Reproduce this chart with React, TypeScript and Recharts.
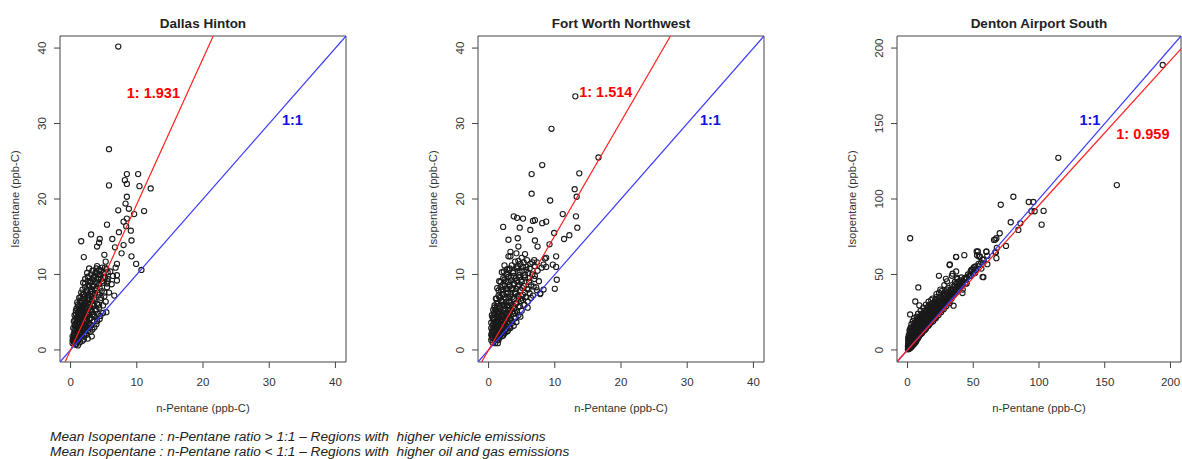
import {
  ScatterChart,
  Scatter,
  XAxis,
  YAxis,
  ReferenceArea,
  ReferenceDot,
} from "recharts";

type Pt = [number, number];

const SITES = ["Dallas Hinton", "Fort Worth Northwest", "Denton Airport South"];
const RATIOS = [1.931, 1.514, 0.959];
const SMALL_TICKS = [0, 10, 20, 30, 40];
const LARGE_TICKS = [0, 50, 100, 150, 200];
const X_TITLE = "n-Pentane (ppb-C)";
const Y_TITLE = "Isopentane (ppb-C)";
const NOTES = [
  "Mean Isopentane : n-Pentane ratio > 1:1 \u2013 Regions with  higher vehicle emissions",
  "Mean Isopentane : n-Pentane ratio < 1:1 \u2013 Regions with  higher oil and gas emissions",
];

// n-Pentane, Isopentane pairs (ppb-C)
const DALLAS_POINTS: Pt[] = [
  [7.2, 40.2], [5.8, 26.6], [5.8, 21.8], [8.5, 23.3], [10.2, 23.3], [8.2, 22.5], [8.5, 22.0],
  [10.4, 21.7], [12.1, 21.4], [8.5, 20.3], [8.3, 19.4], [7.2, 18.5], [8.8, 18.7], [11.1, 18.4],
  [9.6, 18.0], [8.5, 17.4], [8.0, 17.0], [8.4, 16.4], [5.5, 16.6], [9.1, 15.8], [7.3, 15.6],
  [3.1, 15.3], [1.6, 14.4], [4.4, 14.7], [9.2, 14.5], [6.3, 14.7], [8.0, 13.9], [4.3, 14.2],
  [4.0, 13.7], [6.7, 13.6], [2.0, 12.3], [5.1, 12.6], [9.2, 12.4], [7.7, 12.8], [9.9, 11.4],
  [10.7, 10.6], [7.0, 11.4], [5.3, 11.7], [4.0, 11.1], [7.0, 9.9], [5.6, 9.4],
  [0.3, 0.9], [0.4, 1.2], [0.5, 1.0], [0.5, 1.6], [0.6, 2.1], [0.6, 1.3], [0.7, 0.8], [0.7, 2.6],
  [0.8, 1.5], [0.8, 3.1], [0.9, 1.9], [0.9, 2.4], [1.0, 1.1], [1.0, 3.5], [1.0, 2.8], [1.1, 4.2],
  [1.1, 1.7], [1.2, 2.2], [1.2, 3.0], [1.3, 4.8], [1.3, 1.4], [1.3, 3.7], [1.4, 2.6], [1.4, 5.3],
  [1.5, 2.0], [1.5, 4.1], [1.5, 6.3], [1.6, 3.2], [1.6, 1.6], [1.7, 4.6], [1.7, 2.4], [1.7, 5.7],
  [1.8, 3.6], [1.8, 6.8], [1.9, 2.9], [1.9, 4.9], [2.0, 1.9], [2.0, 3.9], [2.0, 5.9], [2.0, 7.4],
  [2.1, 2.6], [2.1, 4.4], [2.2, 6.3], [2.2, 3.3], [2.3, 5.1], [2.3, 2.2], [2.4, 7.9], [2.4, 4.0],
  [2.5, 5.6], [2.5, 3.0], [2.6, 6.7], [2.6, 2.5], [2.7, 4.6], [2.7, 8.6], [2.8, 3.6], [2.8, 5.9],
  [2.9, 7.2], [2.9, 2.9], [3.0, 4.2], [3.0, 9.1], [3.1, 5.3], [3.1, 3.3], [3.2, 6.5], [3.2, 7.8],
  [3.3, 4.7], [3.3, 2.7], [3.4, 8.4], [3.4, 5.8], [3.5, 3.8], [3.5, 9.6], [3.6, 6.9], [3.6, 4.4],
  [3.7, 7.5], [3.8, 5.2], [3.8, 10.3], [3.9, 3.4], [3.9, 8.8], [4.0, 6.1], [4.1, 4.8], [4.1, 9.9],
  [4.2, 7.3], [4.3, 5.6], [4.3, 10.6], [4.4, 8.2], [4.5, 6.6], [4.5, 4.5], [4.6, 9.4], [4.7, 7.8],
  [4.8, 10.9], [4.9, 5.9], [5.0, 8.9], [5.0, 10.2], [5.1, 7.1], [5.2, 9.6], [5.3, 6.4], [5.4, 10.7],
  [5.5, 8.3], [5.6, 9.1], [5.8, 7.6], [6.0, 10.4], [6.2, 8.7], [6.4, 9.8], [6.6, 7.2], [6.8, 10.9],
  [7.0, 9.2], [5.4, 5.0], [4.9, 4.9], [3.2, 1.8], [2.6, 1.5], [1.8, 1.2], [1.1, 0.6], [0.9, 4.2],
  [0.7, 3.4], [0.6, 4.6], [1.2, 5.8], [1.6, 7.6], [1.9, 8.9], [2.2, 9.4], [1.3, 6.9], [2.5, 10.2],
  [2.8, 10.8], [0.4, 2.9], [0.5, 3.8], [1.0, 6.3], [0.8, 5.2],
  [0.4, 1.6], [0.6, 1.9], [0.8, 1.2], [1.0, 1.5], [1.2, 1.8], [0.5, 2.2], [0.7, 2.0], [1.1, 2.5],
  [1.4, 2.1], [1.6, 2.3], [0.6, 2.8], [0.9, 2.6], [1.2, 2.7], [1.5, 3.1], [1.8, 2.8], [2.1, 3.1],
  [0.6, 3.3], [0.9, 3.6], [1.2, 3.3], [1.4, 3.5], [1.7, 3.9], [2.0, 3.4], [2.3, 3.7], [2.6, 3.3],
  [0.7, 4.0], [1.0, 4.4], [1.3, 4.1], [1.6, 4.3], [1.9, 4.2], [2.2, 4.6], [2.5, 4.3], [2.9, 4.1],
  [0.8, 4.7], [1.1, 5.0], [1.4, 4.7], [1.7, 5.2], [2.0, 4.8], [2.3, 5.4], [2.6, 5.0], [2.9, 5.3],
  [3.2, 5.0], [0.9, 5.5], [1.2, 5.4], [1.5, 5.9], [1.8, 5.5], [2.1, 6.0], [2.4, 5.8], [2.7, 6.2],
  [3.0, 5.7], [3.4, 6.1], [1.1, 6.0], [1.4, 6.5], [1.7, 6.2], [2.0, 6.7], [2.3, 6.4], [2.6, 6.9],
  [2.9, 6.6], [3.2, 7.0], [3.6, 6.6], [1.5, 7.0], [1.8, 7.3], [2.1, 7.1], [2.4, 7.5], [2.7, 7.3],
  [3.0, 7.7], [3.3, 7.4], [3.7, 7.9], [4.1, 7.6], [1.8, 8.0], [2.2, 8.3], [2.5, 7.9], [2.8, 8.4],
  [3.1, 8.1], [3.5, 8.6], [3.9, 8.2], [4.3, 8.7], [2.2, 8.8], [2.6, 9.1], [3.0, 8.9], [3.4, 9.3],
  [3.8, 9.0], [4.2, 9.4], [4.7, 9.1], [2.6, 9.7], [3.1, 10.0], [3.6, 9.8], [4.0, 10.2], [4.5, 10.0],
  [5.0, 9.6], [3.3, 10.5], [3.9, 10.8], [4.6, 10.5], [5.2, 10.9], [5.6, 10.3], [3.0, 2.4], [2.4, 2.0],
  [3.6, 3.0], [4.0, 3.8], [4.4, 4.1], [3.5, 4.6], [3.9, 5.4], [4.3, 6.0], [4.6, 6.9], [5.1, 7.6],
  [5.5, 8.8], [2.0, 1.4], [1.4, 1.0], [0.8, 0.7], [0.3, 1.3], [0.3, 1.8],
];

const FORT_WORTH_POINTS: Pt[] = [
  [13.1, 33.6], [9.5, 29.3], [16.6, 25.5], [8.1, 24.5], [6.5, 23.3], [13.7, 23.4], [6.5, 20.7],
  [13.0, 21.3], [13.3, 20.3], [9.3, 19.8], [11.2, 18.0], [13.2, 17.7], [2.2, 16.3], [3.8, 17.7],
  [4.3, 17.5], [5.2, 17.4], [4.7, 16.2], [6.3, 15.9], [6.7, 17.1], [7.0, 17.2], [8.1, 16.8],
  [8.7, 17.0], [9.9, 15.5], [11.4, 14.7], [12.2, 15.2], [13.4, 16.2], [3.0, 14.6], [4.4, 14.8],
  [4.5, 13.7], [7.0, 14.5], [7.4, 13.7], [9.2, 14.0], [10.2, 12.4], [8.7, 12.2], [9.7, 11.3],
  [10.2, 11.0], [10.3, 9.3], [10.0, 8.1], [8.3, 8.0], [7.8, 7.5], [3.3, 12.4], [4.2, 12.8],
  [5.5, 12.7], [2.8, 10.7], [4.4, 11.1],
  [0.4, 1.3], [0.5, 2.0], [0.6, 1.0], [0.6, 2.7], [0.7, 3.4], [0.7, 1.6], [0.8, 4.2], [0.8, 2.3],
  [0.9, 1.2], [0.9, 3.0], [1.0, 4.8], [1.0, 1.9], [1.1, 3.7], [1.1, 2.6], [1.2, 5.5], [1.2, 1.5],
  [1.3, 4.3], [1.3, 3.1], [1.4, 2.2], [1.4, 6.1], [1.5, 3.6], [1.5, 4.9], [1.6, 2.7], [1.6, 7.0],
  [1.7, 5.6], [1.7, 1.9], [1.8, 4.1], [1.8, 3.2], [1.9, 6.5], [1.9, 7.9], [2.0, 2.4], [2.0, 5.0],
  [2.1, 3.8], [2.1, 8.6], [2.2, 6.0], [2.2, 2.9], [2.3, 7.3], [2.3, 4.5], [2.4, 9.3], [2.4, 3.4],
  [2.5, 5.5], [2.5, 2.6], [2.6, 6.8], [2.6, 8.1], [2.7, 4.1], [2.7, 10.0], [2.8, 3.0], [2.8, 5.9],
  [2.9, 7.6], [2.9, 9.0], [3.0, 4.7], [3.0, 3.4], [3.1, 6.4], [3.1, 10.6], [3.2, 8.4], [3.2, 2.9],
  [3.3, 5.3], [3.3, 7.1], [3.4, 9.6], [3.4, 4.0], [3.5, 6.0], [3.5, 11.2], [3.6, 8.0], [3.6, 3.6],
  [3.7, 4.8], [3.7, 10.2], [3.8, 6.8], [3.8, 8.8], [3.9, 5.5], [4.0, 4.2], [4.0, 11.7], [4.1, 7.4],
  [4.1, 9.5], [4.2, 6.2], [4.3, 5.0], [4.3, 10.8], [4.4, 8.4], [4.5, 7.0], [4.5, 4.6], [4.6, 9.9],
  [4.7, 5.8], [4.8, 11.4], [4.8, 7.9], [4.9, 6.5], [5.0, 9.0], [5.0, 5.2], [5.1, 10.5], [5.2, 7.3],
  [5.3, 11.6], [5.3, 8.5], [5.4, 6.0], [5.5, 9.6], [5.6, 7.0], [5.7, 11.0], [5.8, 8.1], [5.9, 6.4],
  [6.0, 10.2], [6.1, 9.0], [6.2, 7.5], [6.3, 11.4], [6.4, 8.6], [6.6, 10.0], [6.7, 7.2], [6.9, 9.4],
  [7.0, 11.1], [7.2, 8.3], [7.4, 10.5], [7.6, 9.1], [7.8, 7.4], [8.0, 10.9], [8.3, 11.3], [8.5, 12.1],
  [8.7, 11.0], [1.0, 0.9], [1.5, 1.3], [2.2, 1.9], [2.9, 2.5], [3.8, 3.2], [1.3, 8.2], [1.1, 6.8],
  [0.9, 5.6], [1.6, 9.1], [2.0, 10.3], [2.4, 11.2], [0.5, 4.6], [0.4, 3.6], [3.0, 12.4], [3.3, 13.0],
  [0.5, 1.6], [0.7, 1.9], [0.9, 1.5], [1.1, 1.8], [1.3, 1.3], [1.6, 1.6], [1.9, 2.1], [0.5, 2.4],
  [0.8, 2.6], [1.2, 2.3], [1.5, 2.5], [1.8, 2.6], [2.1, 2.4], [2.4, 2.2], [0.6, 3.2], [0.9, 3.5],
  [1.2, 3.4], [1.5, 3.0], [1.8, 3.5], [2.1, 3.2], [2.4, 3.6], [2.7, 3.2], [3.1, 3.1], [0.7, 4.0],
  [1.0, 4.3], [1.3, 3.9], [1.6, 4.4], [1.9, 4.0], [2.2, 4.3], [2.5, 3.9], [2.8, 4.4], [3.2, 4.1],
  [3.5, 3.8], [0.8, 4.9], [1.1, 5.2], [1.4, 4.8], [1.7, 5.1], [2.0, 4.7], [2.3, 5.2], [2.6, 4.8],
  [2.9, 5.3], [3.2, 4.9], [3.6, 5.1], [4.0, 4.9], [0.9, 5.9], [1.2, 6.2], [1.5, 5.8], [1.8, 6.0],
  [2.1, 6.4], [2.4, 5.9], [2.7, 6.3], [3.0, 5.8], [3.3, 6.2], [3.7, 5.8], [4.1, 6.1], [4.5, 5.7],
  [1.2, 6.8], [1.5, 7.2], [1.8, 6.9], [2.1, 7.4], [2.4, 7.0], [2.7, 7.5], [3.0, 7.0], [3.3, 7.4],
  [3.6, 7.0], [4.0, 7.6], [4.4, 7.2], [4.8, 6.8], [1.5, 7.9], [1.8, 8.3], [2.2, 8.0], [2.5, 8.5],
  [2.8, 8.1], [3.1, 8.6], [3.5, 8.2], [3.9, 8.7], [4.2, 8.1], [4.6, 8.6], [5.1, 8.2], [5.5, 7.6],
  [1.8, 9.0], [2.2, 9.5], [2.6, 9.1], [3.0, 9.7], [3.4, 9.2], [3.8, 9.8], [4.2, 9.1], [4.6, 9.6],
  [5.0, 9.3], [5.5, 9.9], [6.0, 9.5], [2.3, 10.4], [2.8, 10.1], [3.2, 10.8], [3.7, 10.4], [4.2, 11.0],
  [4.7, 10.3], [5.2, 11.0], [5.7, 10.6], [6.2, 10.8], [6.6, 11.6], [4.5, 11.8], [5.0, 12.2], [5.8, 11.9],
  [6.9, 11.9], [7.3, 11.6], [5.9, 5.6], [5.2, 6.6], [5.7, 7.0], [6.4, 6.9], [6.0, 8.0], [6.8, 8.4],
  [7.0, 9.8], [7.3, 7.9], [1.4, 0.9], [2.0, 1.8], [2.7, 2.4], [3.3, 2.9], [4.2, 3.7], [4.8, 4.4],
  [0.4, 2.0], [0.4, 2.9], [0.6, 4.3], [0.7, 5.3],
];

const DENTON_POINTS: Pt[] = [
  [194.1, 188.8], [114.7, 127.3], [159.2, 109.2], [80.5, 101.5], [70.9, 96.2], [92.2, 98.0],
  [95.7, 98.0], [94.2, 91.9], [96.7, 91.9], [103.5, 92.1], [102.0, 83.0], [78.5, 84.6], [85.8, 83.9],
  [84.3, 79.5], [70.1, 77.3], [67.6, 74.0], [65.8, 72.9], [74.9, 68.9], [67.1, 64.5], [67.6, 60.8],
  [2.0, 74.0], [36.9, 61.7], [43.2, 62.8], [52.6, 65.2], [59.9, 65.0], [55.1, 61.9], [32.0, 56.2],
  [23.9, 49.1], [57.1, 48.4], [48.8, 53.1], [51.6, 55.3], [44.6, 47.9], [41.8, 37.7], [8.2, 41.4],
  [5.9, 32.1], [9.0, 29.5], [2.0, 23.5], [35.0, 29.3], [30.0, 45.4], [34.3, 50.5], [66.8, 73.1],
  [67.9, 67.6], [66.8, 64.8], [60.0, 65.2], [60.7, 62.3], [53.5, 65.2], [54.2, 61.9], [57.0, 59.7],
  [52.9, 62.8], [37.0, 61.5], [32.2, 56.6], [37.0, 52.0], [29.2, 47.1], [33.7, 49.1], [37.5, 47.8],
  [48.6, 53.1], [50.6, 54.9], [54.2, 55.9], [56.2, 53.9], [57.7, 48.2], [60.7, 56.8], [45.1, 47.6],
  [51.4, 50.9],
  [0.5, 1], [1, 2], [1, 4], [1.5, 0.8], [2, 3], [2, 6], [2.5, 1.5], [3, 4], [3, 8], [3.5, 2.5],
  [4, 5], [4, 10], [4.5, 3.5], [5, 6.5], [5, 12], [5.5, 4.5], [6, 8], [6, 14], [6.5, 5.5], [7, 9.5],
  [7, 16], [7.5, 7], [8, 11], [8, 18], [8.5, 8.5], [9, 13], [9.5, 10], [10, 15], [10, 20], [10.5, 11],
  [11, 17], [11.5, 12.5], [12, 14], [12, 22], [12.5, 16], [13, 13], [13.5, 19], [14, 15], [14.5, 24],
  [15, 17], [15.5, 21], [16, 16], [16.5, 19], [17, 26], [17.5, 18], [18, 22], [18.5, 20], [19, 24],
  [19.5, 19], [20, 28], [20.5, 22], [21, 25], [21.5, 21], [22, 30], [22.5, 24], [23, 27], [23.5, 23],
  [24, 32], [24.5, 26], [25, 29], [25.5, 25], [26, 34], [26.5, 28], [27, 31], [27.5, 27], [28, 36],
  [28.5, 30], [29, 33], [29.5, 29], [30, 38], [31, 32], [31.5, 35], [32, 31], [33, 40], [33.5, 34],
  [34, 37], [35, 36], [36, 42], [37, 38], [38, 44], [39, 40], [40, 46], [41, 42], [42, 40], [43, 47],
  [44, 44], [46, 50], [48, 49], [50, 54], [52, 53], [54, 57], [56, 58], [58, 60], [3, 12], [4, 15],
  [5, 17], [7, 20], [9, 22], [11, 24], [13, 26], [15, 28], [18, 33], [22, 37], [25, 40], [28, 43],
  [2, 9], [1, 7], [0.5, 4], [0.3, 2.5], [1.5, 10], [3, 13], [16, 29], [19, 31],
  [0.5, 0.5], [1, 1.5], [1.5, 3], [2, 2], [2.5, 4.5], [3, 3], [3, 6], [3.5, 5], [4, 4], [4, 7],
  [4.5, 6], [5, 5], [5, 9], [5.5, 7.5], [6, 6.5], [6, 11], [6.5, 9], [7, 7.5], [7, 12], [7.5, 10],
  [8, 8], [8, 14], [8.5, 11.5], [9, 9.5], [9, 15], [9.5, 12], [10, 10.5], [10, 17], [10.5, 13.5],
  [11, 11], [11, 15], [11.5, 18], [12, 12.5], [12, 16], [12.5, 14], [13, 20], [13.5, 15], [13.5, 17.5],
  [14, 14], [14, 21], [14.5, 16.5], [15, 19], [15, 23], [15.5, 16], [16, 18], [16, 21.5], [16.5, 17],
  [17, 20], [17, 23], [17.5, 19], [18, 25], [18, 18.5], [18.5, 21.5], [19, 20], [19, 27], [19.5, 23],
  [20, 21], [20, 25], [20.5, 23.5], [21, 21.5], [21, 28], [21.5, 26], [22, 23], [22.5, 27],
  [23, 24.5], [23, 29], [23.5, 25.5], [24, 28], [24.5, 27], [25, 31], [25, 26], [26, 29], [26, 27],
  [27, 30], [27, 33], [28, 29], [28, 32], [29, 31], [29, 35], [30, 31], [30, 34], [31, 36], [32, 33],
  [32, 37], [33, 35], [34, 39], [35, 38], [36, 37], [37, 41], [38, 39], [38, 42], [40, 42], [40, 44],
  [42, 45], [44, 47], [45, 44], [47, 49], [36, 40], [39, 45], [35, 42], [41, 48], [30, 40], [27, 37],
  [24, 35], [20, 31], [17, 28], [14, 25], [11, 21], [9, 19], [7, 17], [5, 14], [3, 10], [2, 7],
  [1, 5], [0.5, 2.5], [0.3, 0.5], [1.5, 1.5], [2.5, 2.5], [3.5, 3.5], [4.5, 4.5],
  [0.5, 8], [1, 10], [1.5, 13], [2, 12], [2.5, 15], [3, 17], [4, 19], [5, 21], [6, 18], [7, 22],
  [8, 24], [9, 20], [10, 26], [11, 23], [12, 28], [13, 24], [14, 30], [15, 26], [16, 32], [17, 30],
  [18, 28], [19, 34], [20, 29], [21, 33], [22, 35], [23, 32], [24, 38], [25, 35], [26, 39], [27, 36],
  [29, 39], [31, 41], [33, 38], [34, 43], [36, 45], [38, 47], [0.5, 6], [1.5, 8], [2.5, 10], [3.5, 8],
  [4.5, 12], [5.5, 10], [6.5, 15], [7.5, 13], [8.5, 17], [9.5, 16], [10.5, 19], [11.5, 21], [12.5, 19],
  [13.5, 22], [14.5, 20], [15.5, 24], [16.5, 23], [17.5, 25], [18.5, 27], [19.5, 26], [20.5, 27],
  [21.5, 30], [22.5, 31], [23.5, 29], [24.5, 33], [25.5, 31], [26.5, 32], [27.5, 34], [28.5, 37],
  [29.5, 36], [31, 38], [32, 35], [33, 37], [35, 40], [37, 44], [39, 43], [42, 43], [45, 48], [48, 52],
  [50, 51], [2, 14], [4, 13], [6, 16], [8, 20], [10, 22], [12, 24],
];

const FONT = '"Liberation Sans", Arial, sans-serif';
const INK = "#333";

type Panel = {
  title: string;
  points: { x: number; y: number }[];
  ratio: number;
  ticks: number[];
  left: number;
  width: number;
  ratioAt: [number, number];
  unitAt: [number, number];
};

const toXY = (pts: Pt[]) => pts.map(([x, y]) => ({ x, y }));

const PANELS: Panel[] = [
  { title: SITES[0], points: toXY(DALLAS_POINTS), ratio: RATIOS[0], ticks: SMALL_TICKS, left: 0, width: 400, ratioAt: [12.5, 34.1], unitAt: [33.5, 30.5] },
  { title: SITES[1], points: toXY(FORT_WORTH_POINTS), ratio: RATIOS[1], ticks: SMALL_TICKS, left: 418, width: 400, ratioAt: [17.7, 34.2], unitAt: [33.5, 30.5] },
  { title: SITES[2], points: toXY(DENTON_POINTS), ratio: RATIOS[2], ticks: LARGE_TICKS, left: 837, width: 345, ratioAt: [179, 143.4], unitAt: [138.7, 152.5] },
];

// R pads the axis range by 4% on each side
const padRange = (ticks: number[]): [number, number] => {
  const lo = ticks[0];
  const hi = ticks[ticks.length - 1];
  const pad = (hi - lo) * 0.04;
  return [lo - pad, hi + pad];
};

// y = k·x clipped to the square plotting region
const ratioSegment = (k: number, lo: number, hi: number) => {
  const x0 = Math.max(lo, lo / k);
  const x1 = Math.min(hi, hi / k);
  return [
    { x: x0, y: k * x0 },
    { x: x1, y: k * x1 },
  ];
};

const OpenCircle = (props: any) => (
  <circle cx={props.cx} cy={props.cy} r={2.6} fill="none" stroke="#1a1a1a" strokeWidth={1.1} />
);

const NoMarker = () => <g />;

const SideTick = (props: any) => {
  const { x, y, payload } = props;
  const bx = x - 6;
  return (
    <text
      x={bx}
      y={y}
      transform={`rotate(-90 ${bx} ${y})`}
      textAnchor="middle"
      fontSize={11.5}
      fontFamily={FONT}
      fill={INK}
    >
      {payload.value}
    </text>
  );
};

const MARGIN_TOP = 36;
const Y_AXIS_W = 60;
const X_AXIS_H = 58;
const CHART_H = 420;

function RatioPanel({ panel }: { panel: Panel }) {
  const [lo, hi] = padRange(panel.ticks);
  const rightMargin = panel.width === 400 ? 54 : 1;
  const plotW = panel.width - Y_AXIS_W - rightMargin;
  return (
    <div style={{ position: "absolute", left: panel.left, top: 0, width: panel.width, height: CHART_H }}>
      <div
        style={{
          position: "absolute",
          left: Y_AXIS_W,
          width: plotW,
          top: 16,
          textAlign: "center",
          fontWeight: "bold",
          fontSize: 13.5,
          color: "#222",
          fontFamily: FONT,
        }}
      >
        {panel.title}
      </div>
      <ScatterChart
        width={panel.width}
        height={CHART_H}
        margin={{ top: MARGIN_TOP, right: rightMargin, bottom: 0, left: 0 }}
      >
        <XAxis
          type="number"
          dataKey="x"
          domain={[lo, hi]}
          ticks={panel.ticks}
          allowDataOverflow
          height={X_AXIS_H}
          axisLine={false}
          tickLine={{ stroke: "#444" }}
          tickSize={6}
          tickMargin={10}
          tick={{ fontSize: 11.5, fill: INK, fontFamily: FONT }}
          label={{ value: X_TITLE, position: "insideBottom", offset: 8, fontSize: 11.3, fill: INK, fontFamily: FONT }}
        />
        <YAxis
          type="number"
          dataKey="y"
          domain={[lo, hi]}
          ticks={panel.ticks}
          allowDataOverflow
          width={Y_AXIS_W}
          axisLine={false}
          tickLine={{ stroke: "#444" }}
          tickSize={6}
          tickMargin={2}
          tick={<SideTick />}
          label={{
            value: Y_TITLE,
            angle: -90,
            position: "insideLeft",
            offset: 15,
            fontSize: 11.3,
            fill: INK,
            fontFamily: FONT,
            style: { textAnchor: "middle" },
          }}
        />
        <ReferenceArea x1={lo} x2={hi} y1={lo} y2={hi} fill="none" stroke="#444" strokeWidth={1} ifOverflow="visible" />
        <Scatter data={panel.points} shape={<OpenCircle />} isAnimationActive={false} />
        {/* reference lines drawn as two-point series so they sit above the markers */}
        <Scatter
          data={ratioSegment(1, lo, hi)}
          fill="#3a3aff"
          line={{ stroke: "#3a3aff", strokeWidth: 1.2 }}
          shape={<NoMarker />}
          isAnimationActive={false}
        />
        <Scatter
          data={ratioSegment(panel.ratio, lo, hi)}
          fill="#ff2020"
          line={{ stroke: "#ff2020", strokeWidth: 1.2 }}
          shape={<NoMarker />}
          isAnimationActive={false}
        />
        <ReferenceDot
          x={panel.ratioAt[0]}
          y={panel.ratioAt[1]}
          r={0}
          fill="none"
          stroke="none"
          ifOverflow="visible"
          label={{ value: `1: ${panel.ratio}`, position: "center", fill: "#ff0000", fontWeight: "bold", fontSize: 14.5, fontFamily: FONT }}
        />
        <ReferenceDot
          x={panel.unitAt[0]}
          y={panel.unitAt[1]}
          r={0}
          fill="none"
          stroke="none"
          ifOverflow="visible"
          label={{ value: "1:1", position: "center", fill: "#1010e0", fontWeight: "bold", fontSize: 14.5, fontFamily: FONT }}
        />
      </ScatterChart>
    </div>
  );
}

export default function App() {
  return (
    <div
      style={{
        position: "absolute",
        left: 0,
        top: 0,
        width: 1182,
        height: 459,
        overflow: "hidden",
        background: "#fff",
        fontFamily: FONT,
      }}
    >
      {PANELS.map((p) => (
        <RatioPanel key={p.title} panel={p} />
      ))}
      <div
        style={{
          position: "absolute",
          left: 50,
          top: 429,
          fontStyle: "italic",
          fontSize: 13.7,
          lineHeight: "15px",
          color: "#222",
          whiteSpace: "pre",
        }}
      >
        {NOTES.map((n) => (
          <div key={n}>{n}</div>
        ))}
      </div>
    </div>
  );
}
